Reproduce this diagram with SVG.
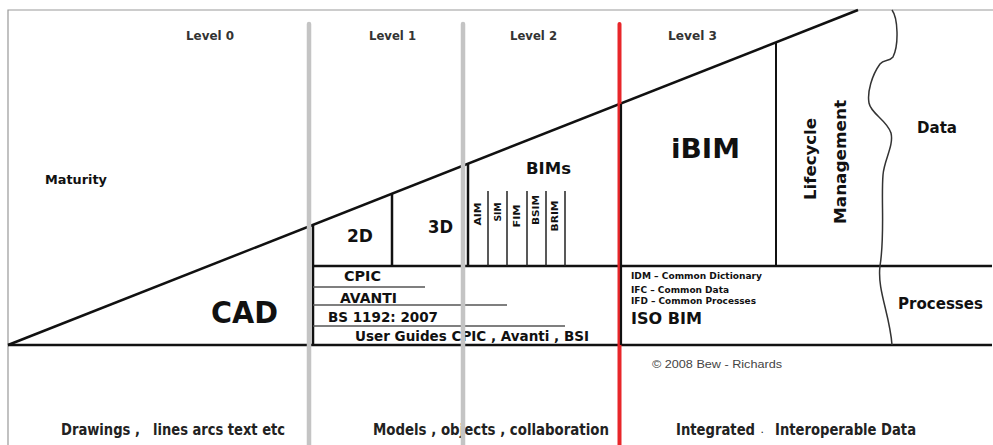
<svg xmlns="http://www.w3.org/2000/svg" width="993" height="445" viewBox="0 0 993 445">
<style>
text{font-family:"DejaVu Sans","Liberation Sans",sans-serif;font-weight:bold;fill:#111}
.lvl{font-size:13px;fill:#333}
.mid{font-size:14px}
.tiny{font-size:8.5px}
.rot{font-size:9.5px;text-anchor:middle}
.cond{font-family:"DejaVu Sans Condensed","DejaVu Sans",sans-serif;font-size:16px;fill:#222}
.ln{stroke:#111;stroke-width:2.5;fill:none}
.thin{stroke:#222;stroke-width:1.5;fill:none}
.sub{stroke:#555;stroke-width:1.3;fill:none}
.gray{stroke:#c4c4c4;stroke-width:4.5;stroke-linecap:round;fill:none}
</style>
<rect width="993" height="445" fill="#fff"/>
<g id="frame">
<path d="M8,445 V10 H993" stroke="#999" stroke-width="1.2" fill="none"/>
</g>
<g id="connectors">
<line class="ln" x1="8" y1="345" x2="858" y2="10"/>
<line class="ln" x1="8" y1="345" x2="992" y2="345"/>
<line class="ln" x1="313" y1="266" x2="992" y2="266"/>
<line class="ln" x1="313" y1="224.8" x2="313" y2="345"/>
<line class="ln" x1="392" y1="193.7" x2="392" y2="266"/>
<line class="ln" x1="468" y1="163.7" x2="468" y2="266"/>
<line class="thin" x1="488" y1="191" x2="488" y2="266"/>
<line class="thin" x1="507" y1="191" x2="507" y2="266"/>
<line class="thin" x1="527" y1="191" x2="527" y2="266"/>
<line class="thin" x1="546" y1="191" x2="546" y2="266"/>
<line class="thin" x1="565" y1="191" x2="565" y2="266"/>
<line class="ln" x1="776" y1="42" x2="776" y2="266" style="stroke-width:2"/>
<line class="sub" x1="313" y1="287" x2="425" y2="287"/>
<line class="sub" x1="313" y1="305" x2="507" y2="305"/>
<line class="sub" x1="313" y1="326" x2="565" y2="326"/>
<path d="M892,10 C898,18 899,45 893,57 C889,62 884,59 880,64 C872,75 867,92 869,103 C871,114 887,120 891,133 C894,146 884,160 883,175 C881,200 885,235 880,266 C877,290 890,315 892,345" stroke="#333" stroke-width="1.5" fill="none"/>
</g>
<g id="levels">
<text class="lvl" x="186" y="40" textLength="48" lengthAdjust="spacingAndGlyphs">Level 0</text>
<text class="lvl" x="369" y="40" textLength="47" lengthAdjust="spacingAndGlyphs">Level 1</text>
<text class="lvl" x="510" y="40" textLength="47" lengthAdjust="spacingAndGlyphs">Level 2</text>
<text class="lvl" x="668" y="40" textLength="49" lengthAdjust="spacingAndGlyphs">Level 3</text>
</g>
<g id="maturity"><text x="45" y="184" style="font-size:13px" textLength="62" lengthAdjust="spacingAndGlyphs">Maturity</text></g>
<g id="cad"><text x="211" y="323" style="font-size:30px;font-weight:900" textLength="67" lengthAdjust="spacingAndGlyphs">CAD</text></g>
<g id="n2d"><text x="347" y="242" style="font-size:18px" textLength="26" lengthAdjust="spacingAndGlyphs">2D</text></g>
<g id="n3d"><text x="428" y="233" style="font-size:18px" textLength="25" lengthAdjust="spacingAndGlyphs">3D</text></g>
<g id="bims">
<text x="526" y="174" style="font-size:16px" textLength="45" lengthAdjust="spacingAndGlyphs">BIMs</text>
<text class="rot" transform="translate(481,214) rotate(-90)" textLength="23" lengthAdjust="spacingAndGlyphs">AIM</text>
<text class="rot" transform="translate(501,212) rotate(-90)" textLength="19" lengthAdjust="spacingAndGlyphs">SIM</text>
<text class="rot" transform="translate(520,216) rotate(-90)" textLength="23" lengthAdjust="spacingAndGlyphs">FIM</text>
<text class="rot" transform="translate(539,210) rotate(-90)" textLength="30" lengthAdjust="spacingAndGlyphs">BSIM</text>
<text class="rot" transform="translate(558,216) rotate(-90)" textLength="31" lengthAdjust="spacingAndGlyphs">BRIM</text>
</g>
<g id="standards">
<text class="mid" x="344" y="281" textLength="37" lengthAdjust="spacingAndGlyphs">CPIC</text>
<text class="mid" x="340" y="303" textLength="57" lengthAdjust="spacingAndGlyphs">AVANTI</text>
<text class="mid" x="328" y="322" textLength="110" lengthAdjust="spacingAndGlyphs">BS 1192: 2007</text>
<text class="mid" x="355" y="341" textLength="234" lengthAdjust="spacingAndGlyphs">User Guides CPIC , Avanti , BSI</text>
</g>
<g id="iso">
<text class="tiny" x="631" y="279" textLength="131" lengthAdjust="spacingAndGlyphs">IDM – Common Dictionary</text>
<text class="tiny" x="631" y="293" textLength="98" lengthAdjust="spacingAndGlyphs">IFC – Common Data</text>
<text class="tiny" x="631" y="304" textLength="125" lengthAdjust="spacingAndGlyphs">IFD – Common Processes</text>
<text x="631" y="324" style="font-size:16px" textLength="71" lengthAdjust="spacingAndGlyphs">ISO BIM</text>
</g>
<g id="ibim"><text x="671" y="158" style="font-size:27px" textLength="69" lengthAdjust="spacingAndGlyphs">iBIM</text></g>
<g id="lifecycle">
<text transform="translate(816,159) rotate(-90)" style="font-size:15px;text-anchor:middle" textLength="82" lengthAdjust="spacingAndGlyphs">Lifecycle</text>
<text transform="translate(846,162) rotate(-90)" style="font-size:15px;text-anchor:middle" textLength="124" lengthAdjust="spacingAndGlyphs">Management</text>
</g>
<g id="data"><text x="917" y="133" style="font-size:15px" textLength="40" lengthAdjust="spacingAndGlyphs">Data</text></g>
<g id="processes"><text x="898" y="309" style="font-size:16px" textLength="85" lengthAdjust="spacingAndGlyphs">Processes</text></g>
<g id="copyright"><text x="652" y="368" style="font-family:'Liberation Sans',Arial,sans-serif;font-weight:normal;font-size:11px;fill:#444" textLength="130" lengthAdjust="spacingAndGlyphs">© 2008 Bew - Richards</text></g>
<g id="bottom">
<text class="cond" x="61" y="435" textLength="79" lengthAdjust="spacingAndGlyphs">Drawings ,</text>
<text class="cond" x="153" y="435" textLength="132" lengthAdjust="spacingAndGlyphs">lines arcs text etc</text>
<text class="cond" x="373" y="435" textLength="236" lengthAdjust="spacingAndGlyphs">Models , objects , collaboration</text>
<text class="cond" x="676" y="435" textLength="79" lengthAdjust="spacingAndGlyphs">Integrated</text>
<text class="cond" x="761" y="433" style="font-size:7px">.</text>
<text class="cond" x="775" y="435" textLength="141" lengthAdjust="spacingAndGlyphs">Interoperable Data</text>
</g>
<g id="dividers">
<line class="gray" x1="309" y1="24" x2="309" y2="445"/>
<line class="gray" x1="463" y1="24" x2="463" y2="445"/>
<line x1="619.5" y1="24" x2="619.5" y2="445" stroke="#e8262a" stroke-width="4" stroke-linecap="round"/>
<line x1="621" y1="103.8" x2="621" y2="345" stroke="#111" stroke-width="2.2"/>
</g>
</svg>
